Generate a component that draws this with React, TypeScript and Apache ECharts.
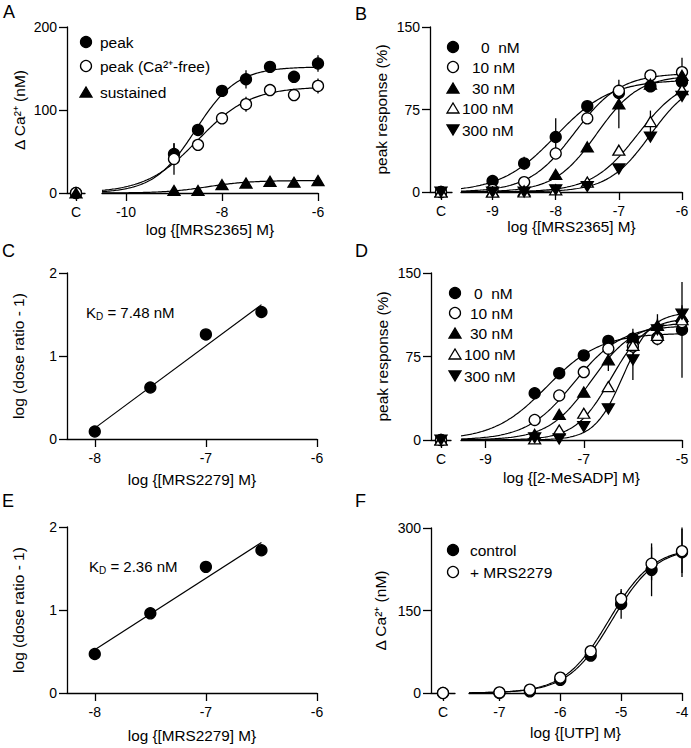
import React, { useEffect, useRef } from 'react';
import * as echarts from 'echarts';

const FONT = '"Liberation Sans", Arial, Helvetica, sans-serif';

// ---------- Panel A ----------
const aX = [-9, -8.5, -8, -7.5, -7, -6.5, -6];
const aPeak = [47, 76, 123, 137, 152, 140, 156];
const aPeakErr = [13, 5, 4, 11, 7, 3, 10];
const aFree = [41, 58, 90, 107, 124, 118, 129];
const aFreeErr = [19, 3, 5, 9, 5, 4, 9];
const aSust = [3, 3, 10, 12, 14, 13, 15];
const aSustErr = [1, 1, 2, 2, 2, 2, 2];
const aCtl = [0, 0, 0];
const aCtlErr = [6, 4, 3];
const aFitPeak = [152, -8.55, 1.0];
const aFitFree = [128, -8.5, 0.8];
const aFitSust = [15, -8.3, 1.0];
const aTicks = [-10, -8, -6];

// ---------- Panel B ----------
const bX = [-9, -8.5, -8, -7.5, -7, -6.5, -6];
const b0 = [10, 26, 50, 78, 90, 96, 100];
const b0Err = [3, 6, 17, 3, 3, 3, 4];
const b10 = [2, 9, 35, 67, 92, 106, 109];
const b10Err = [1, 2, 3, 3, 3, 3, 13];
const b30 = [0, 1, 16, 41, 80, 98, 106];
const b30Err = [1, 1, 2, 3, 22, 3, 4];
const b100 = [0, 0, 2, 9, 38, 64, 93];
const b100Err = [1, 1, 1, 3, 4, 10, 4];
const b300 = [0, 0, 2, 5, 21, 50, 87];
const b300Err = [1, 1, 1, 2, 3, 3, 4];
const bCtl = [0, 0, 0, 0, 0];
const bCtlErr = [4, 3, 3, 3, 3];
const bFits = [[102, -8.0, 1.0], [108, -7.7, 1.2], [106, -7.35, 1.3], [105, -6.7, 1.2], [104, -6.5, 1.3]];
const bTicks = [-9, -8, -7, -6];

// ---------- Panel C ----------
const cX = [-8, -7.5, -7, -6.5];
const cY = [0.09, 0.62, 1.26, 1.53];
const cTicks = [-8, -7, -6];

// ---------- Panel D ----------
const dX = [-8, -7.5, -7, -6.5, -6, -5.5, -5];
const d0 = [42, 60, 76, 89, 91, 92, 99];
const d0Err = [2, 4, 2, 2, 4, 4, 43];
const d10 = [18, 40, 61, 82, 84, 91, 106];
const d10Err = [3, 2, 2, 2, 4, 4, 10];
const d30 = [5, 23, 43, 72, 92, 103, 111];
const d30Err = [2, 2, 2, 10, 8, 6, 8];
const d100 = [1, 9, 24, 48, 85, 94, 108];
const d100Err = [1, 2, 2, 3, 5, 4, 6];
const d300 = [2, 1, 12, 28, 72, 99, 113];
const d300Err = [1, 1, 2, 3, 18, 14, 8];
const dCtl = [0, 0, 0, 0, 0];
const dCtlErr = [4, 3, 3, 3, 3];
const dFits = [[96, -7.75, 0.8], [103, -7.2, 0.9], [106, -6.85, 1.0], [110, -6.45, 1.2], [115, -6.2, 1.5]];
const dTicks = [-9, -7, -5];

// ---------- Panel E ----------
const eX = [-8, -7.5, -7, -6.5];
const eY = [0.47, 0.96, 1.52, 1.72];

// ---------- Panel F ----------
const fX = [-7, -6.5, -6, -5.5, -5, -4.5, -4];
const fCtrl = [0, 3, 24, 68, 162, 224, 256];
const fCtrlErr = [2, 3, 4, 6, 27, 48, 45];
const fMrs = [1, 6, 28, 76, 171, 235, 258];
const fMrsErr = [2, 3, 4, 5, 15, 30, 40];
const fCtl = [0, 0];
const fCtlErr = [5, 5];
const fFitCtrl = [265, -5.15, 1.2];
const fFitMrs = [265, -5.2, 1.2];
const fTicks = [-7, -6, -5, -4];

const hill = (p: number[], x: number) => p[0] / (1 + Math.pow(10, (p[1] - x) * p[2]));

function curveData(p: number[], x0: number, x1: number) {
  const out: number[][] = [];
  const n = 150;
  for (let i = 0; i <= n; i++) {
    const x = x0 + ((x1 - x0) * i) / n;
    out.push([x, hill(p, x)]);
  }
  return out;
}

function regression(xs: number[], ys: number[]) {
  const n = xs.length;
  const mx = xs.reduce((a, b) => a + b, 0) / n;
  const my = ys.reduce((a, b) => a + b, 0) / n;
  let sxy = 0, sxx = 0;
  for (let i = 0; i < n; i++) {
    sxy += (xs[i] - mx) * (ys[i] - my);
    sxx += (xs[i] - mx) * (xs[i] - mx);
  }
  const slope = sxy / sxx;
  const x0 = xs[0], x1 = xs[n - 1];
  return [[x0, my + slope * (x0 - mx)], [x1, my + slope * (x1 - mx)]];
}

const AX_LINE = { show: true, onZero: false, lineStyle: { color: '#000', width: 1.3 } };
const LBL = { color: '#000', fontSize: 14, fontFamily: FONT };
const XNAME_STYLE = { color: '#000', fontSize: 15.3, fontFamily: FONT };
const YNAME_STYLE = { color: '#000', fontSize: 15.5, fontFamily: FONT };

function cXAxis(gi: number) {
  return {
    type: 'value', gridIndex: gi, min: 0, max: 1,
    axisLine: AX_LINE,
    axisTick: { show: true, length: 8, customValues: [0.5], lineStyle: { color: '#000', width: 1.3 } },
    axisLabel: { ...LBL, margin: 12, customValues: [0.5], formatter: () => 'C' },
    splitLine: { show: false },
  };
}

function mainXAxis(gi: number, min: number, max: number, ticks: number[], name: string, gap: number) {
  return {
    type: 'value', gridIndex: gi, min, max,
    axisLine: AX_LINE,
    axisTick: { show: true, length: 8, customValues: ticks, lineStyle: { color: '#000', width: 1.3 } },
    axisLabel: { ...LBL, margin: 12, customValues: ticks, formatter: (v: number) => String(v) },
    splitLine: { show: false },
    name, nameLocation: 'middle', nameGap: gap, nameTextStyle: XNAME_STYLE,
  };
}

function visYAxis(gi: number, max: number, interval: number, name: string, gap: number) {
  return {
    type: 'value', gridIndex: gi, min: 0, max, interval,
    axisLine: AX_LINE,
    axisTick: { show: true, length: 8, lineStyle: { color: '#000', width: 1.3 } },
    axisLabel: { ...LBL, margin: 10 },
    splitLine: { show: false },
    name, nameLocation: 'middle', nameGap: gap, nameTextStyle: YNAME_STYLE,
  };
}

function hidYAxis(gi: number, max: number) {
  return { type: 'value', gridIndex: gi, min: 0, max, show: false, splitLine: { show: false } };
}

function scatter(gi: number, xs: number[], ys: number[], symbol: string, filled: boolean, rotate = 0) {
  const tri = symbol === 'triangle';
  return {
    type: 'scatter', xAxisIndex: gi, yAxisIndex: gi,
    data: xs.map((x, i) => [x, ys[i]]),
    symbol, symbolSize: tri ? [12, 10] : 11, symbolRotate: rotate,
    itemStyle: { color: filled ? '#000' : '#fff', borderColor: '#000', borderWidth: 1.3, opacity: 1 },
    z: 3, silent: true,
  };
}

function errorBars(gi: number, xs: number[], ys: number[], es: number[]) {
  return {
    type: 'custom', coordinateSystem: 'cartesian2d', xAxisIndex: gi, yAxisIndex: gi,
    data: xs.map((x, i) => [x, ys[i], es[i]]),
    renderItem: (_p: any, api: any) => {
      const x = api.value(0), y = api.value(1), e = api.value(2);
      const p1 = api.coord([x, y - e]);
      const p2 = api.coord([x, y + e]);
      return { type: 'line', shape: { x1: p1[0], y1: p1[1], x2: p2[0], y2: p2[1] }, style: { stroke: '#000', lineWidth: 1.3 } };
    },
    z: 1, silent: true,
  };
}

function line(gi: number, data: number[][]) {
  return {
    type: 'line', xAxisIndex: gi, yAxisIndex: gi, data, showSymbol: false, symbol: 'none',
    lineStyle: { color: '#000', width: 1.2 }, z: 2, silent: true,
  };
}

const SYMS: [string, boolean, number][] = [
  ['circle', true, 0], ['circle', false, 0], ['triangle', true, 0], ['triangle', false, 0], ['triangle', true, 180],
];

function legendMarker(kind: number, cx: number, cy: number) {
  const [sym, filled, rot] = SYMS[kind];
  const style = { fill: filled ? '#000' : '#fff', stroke: '#000', lineWidth: 1.3 };
  if (sym === 'circle') return { type: 'circle', shape: { cx, cy, r: 5.5 }, style };
  const pts = rot === 180
    ? [[cx - 6, cy - 5], [cx + 6, cy - 5], [cx, cy + 5]]
    : [[cx - 6, cy + 5], [cx + 6, cy + 5], [cx, cy - 5]];
  return { type: 'polygon', shape: { points: pts }, style };
}

function txt(x: number, y: number, text: string, size = 15.5) {
  return { type: 'text', x, y, style: { text, fill: '#000', fontSize: size, fontFamily: FONT, align: 'left', verticalAlign: 'middle' } };
}

function letter(x: number, y: number, text: string) {
  return { type: 'text', x, y, style: { text, fill: '#000', fontSize: 18, fontFamily: FONT, align: 'left', verticalAlign: 'top' } };
}

function kd(x: number, y: number, val: string) {
  return {
    type: 'text', x, y,
    style: {
      text: `{a|K}{b|D}{a| = ${val}}`, align: 'left', verticalAlign: 'middle',
      rich: {
        a: { fontSize: 15, fontFamily: FONT, fill: '#000', color: '#000', lineHeight: 18 },
        b: { fontSize: 10, fontFamily: FONT, fill: '#000', color: '#000', lineHeight: 11, verticalAlign: 'bottom' },
      },
    },
  };
}

function buildOption() {
  const grids = [
    { left: 67, top: 27, width: 18, height: 166 },   // 0 A-C
    { left: 102, top: 27, width: 216, height: 166 }, // 1 A-main
    { left: 430, top: 27, width: 22, height: 165 },  // 2 B-C
    { left: 461, top: 27, width: 221, height: 165 }, // 3 B-main
    { left: 67, top: 273, width: 250, height: 166 }, // 4 C
    { left: 431, top: 273, width: 20, height: 167 }, // 5 D-C
    { left: 461, top: 273, width: 221, height: 167 },// 6 D-main
    { left: 67, top: 527, width: 250, height: 166 }, // 7 E
    { left: 431, top: 528, width: 24, height: 165 }, // 8 F-C
    { left: 469, top: 528, width: 213, height: 165 },// 9 F-main
  ].map((g) => ({ ...g, containLabel: false, outerBoundsMode: 'none' }));

  const xAxis = [
    cXAxis(0),
    mainXAxis(1, -10.5, -6, aTicks, 'log {[MRS2365] M}', 29),
    cXAxis(2),
    mainXAxis(3, -9.5, -6, bTicks, 'log {[MRS2365] M}', 26),
    mainXAxis(4, -8.25, -6, cTicks, 'log {[MRS2279] M}', 33),
    cXAxis(5),
    mainXAxis(6, -9.5, -5, dTicks, 'log {[2-MeSADP] M}', 30),
    mainXAxis(7, -8.25, -6, cTicks, 'log {[MRS2279] M}', 35),
    cXAxis(8),
    mainXAxis(9, -7.5, -4, fTicks, 'log {[UTP] M}', 32),
  ];
  const yAxis = [
    visYAxis(0, 200, 100, 'Δ Ca²⁺ (nM)', 40),
    hidYAxis(1, 200),
    visYAxis(2, 150, 75, 'peak response (%)', 41),
    hidYAxis(3, 150),
    visYAxis(4, 2, 1, 'log (dose ratio - 1)', 41),
    visYAxis(5, 150, 75, 'peak response (%)', 41),
    hidYAxis(6, 150),
    visYAxis(7, 2, 1, 'log (dose ratio - 1)', 41),
    visYAxis(8, 300, 150, 'Δ Ca²⁺ (nM)', 43),
    hidYAxis(9, 300),
  ];

  const series: any[] = [];
  const C = [0.5];

  // Panel A
  series.push(line(1, curveData(aFitPeak, -10.5, -6)));
  series.push(line(1, curveData(aFitFree, -10.5, -6)));
  series.push(line(1, curveData(aFitSust, -10.5, -6)));
  [[aPeak, aPeakErr], [aFree, aFreeErr], [aSust, aSustErr]].forEach(([ys, es]) => series.push(errorBars(1, aX, ys, es)));
  aCtl.forEach((v, i) => series.push(errorBars(0, C, [v], [aCtlErr[i]])));
  series.push(scatter(1, aX, aPeak, 'circle', true));
  series.push(scatter(1, aX, aFree, 'circle', false));
  series.push(scatter(1, aX, aSust, 'triangle', true));
  series.push(scatter(0, C, [aCtl[0]], 'circle', true));
  series.push(scatter(0, C, [aCtl[1]], 'circle', false));
  series.push(scatter(0, C, [aCtl[2]], 'triangle', true));

  // Panel B
  const bSets = [[b0, b0Err], [b10, b10Err], [b30, b30Err], [b100, b100Err], [b300, b300Err]];
  bFits.forEach((p) => series.push(line(3, curveData(p, -9.5, -6))));
  bSets.forEach(([ys, es]) => series.push(errorBars(3, bX, ys, es)));
  bCtl.forEach((v, i) => series.push(errorBars(2, C, [v], [bCtlErr[i]])));
  bSets.forEach(([ys], k) => series.push(scatter(3, bX, ys, SYMS[k][0], SYMS[k][1], SYMS[k][2])));
  bCtl.forEach((v, k) => series.push(scatter(2, C, [v], SYMS[k][0], SYMS[k][1], SYMS[k][2])));

  // Panel C
  series.push(line(4, regression(cX, cY)));
  series.push(scatter(4, cX, cY, 'circle', true));

  // Panel D
  const dSets = [[d0, d0Err], [d10, d10Err], [d30, d30Err], [d100, d100Err], [d300, d300Err]];
  dFits.forEach((p) => series.push(line(6, curveData(p, -9.5, -5))));
  dSets.forEach(([ys, es]) => series.push(errorBars(6, dX, ys, es)));
  dCtl.forEach((v, i) => series.push(errorBars(5, C, [v], [dCtlErr[i]])));
  dSets.forEach(([ys], k) => series.push(scatter(6, dX, ys, SYMS[k][0], SYMS[k][1], SYMS[k][2])));
  dCtl.forEach((v, k) => series.push(scatter(5, C, [v], SYMS[k][0], SYMS[k][1], SYMS[k][2])));

  // Panel E
  series.push(line(7, regression(eX, eY)));
  series.push(scatter(7, eX, eY, 'circle', true));

  // Panel F
  series.push(line(9, curveData(fFitCtrl, -7.5, -4)));
  series.push(line(9, curveData(fFitMrs, -7.5, -4)));
  series.push(errorBars(9, fX, fCtrl, fCtrlErr));
  series.push(errorBars(9, fX, fMrs, fMrsErr));
  fCtl.forEach((v, i) => series.push(errorBars(8, C, [v], [fCtlErr[i]])));
  series.push(scatter(9, fX, fCtrl, 'circle', true));
  series.push(scatter(9, fX, fMrs, 'circle', false));
  series.push(scatter(8, C, [fCtl[0]], 'circle', true));
  series.push(scatter(8, C, [fCtl[1]], 'circle', false));

  const bNames = ['0  nM', '10 nM', '30 nM', '100 nM', '300 nM'];
  const bLegY = [47, 67, 88, 108, 130];
  const bTxtX = [481, 472, 472, 462, 462];
  const dLegY = [293, 313, 333, 354, 376];
  const dTxtX = [474, 470, 470, 464, 464];

  const graphic: any[] = [
    letter(3, 3, 'A'), letter(355, 5, 'B'), letter(2, 242, 'C'), letter(355, 242, 'D'), letter(2, 492, 'E'), letter(355, 492, 'F'),
    legendMarker(0, 86, 42), txt(100, 42, 'peak'),
    legendMarker(1, 86, 66), txt(100, 66, 'peak (Ca²⁺-free)'),
    legendMarker(2, 86, 92), txt(100, 92, 'sustained'),
    kd(86, 312, '7.48 nM'),
    kd(89, 566, '2.36 nM'),
    legendMarker(0, 453, 550), txt(470, 550, 'control'),
    legendMarker(1, 453, 572), txt(470, 572, '+ MRS2279'),
  ];
  bNames.forEach((n, k) => {
    graphic.push(legendMarker(k, 453, bLegY[k]));
    graphic.push(txt(bTxtX[k], bLegY[k], n));
    graphic.push(legendMarker(k, 455, dLegY[k]));
    graphic.push(txt(dTxtX[k], dLegY[k], n));
  });

  return {
    animation: false,
    backgroundColor: '#fff',
    textStyle: { fontFamily: FONT, color: '#000' },
    grid: grids,
    xAxis,
    yAxis,
    series,
    graphic,
  };
}

export default function App() {
  const ref = useRef<HTMLDivElement>(null);
  useEffect(() => {
    if (!ref.current) return;
    const chart = echarts.init(ref.current, undefined, { renderer: 'svg' });
    chart.setOption(buildOption() as any);
    return () => chart.dispose();
  }, []);
  return (
    <div
      ref={ref}
      style={{ position: 'fixed', left: 0, top: 0, width: 691, height: 748, background: '#fff' }}
    />
  );
}
